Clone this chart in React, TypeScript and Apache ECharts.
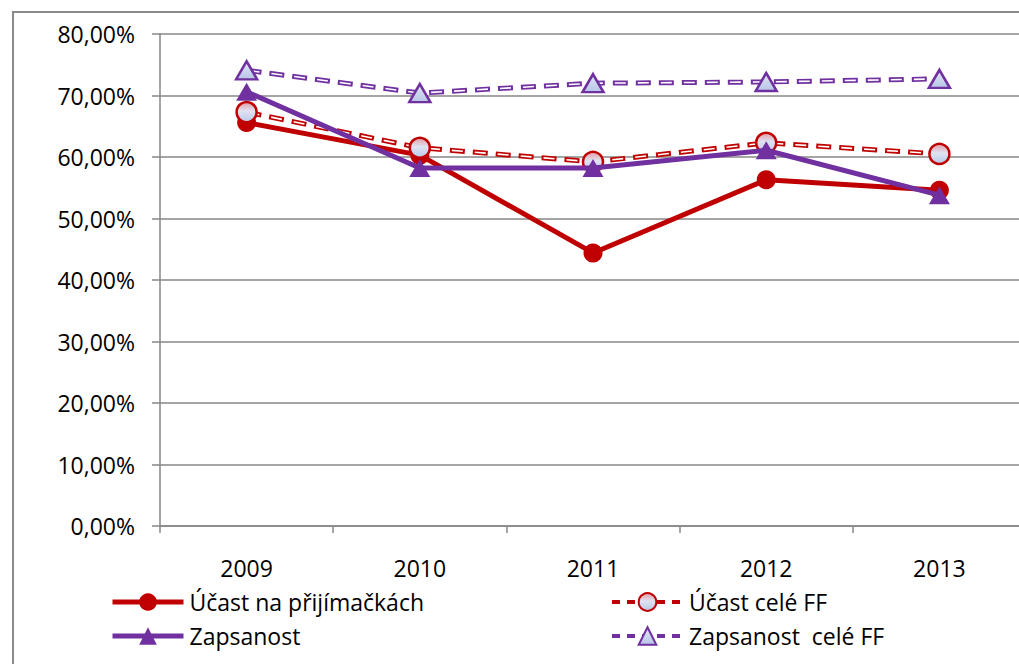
import React, { useEffect, useRef } from "react";
import * as echarts from "echarts";

const categories = ["2009", "2010", "2011", "2012", "2013"];
const ucast = [65.6, 60.3, 44.4, 56.3, 54.6];
const ucastFF = [67.3, 61.5, 59.2, 62.3, 60.5];
const zapsanost = [70.6, 58.2, 58.2, 61.1, 53.8];
const zapsanostFF = [74.1, 70.4, 72.0, 72.2, 72.7];
const yMin = 0;
const yMax = 80;
const yInterval = 10;

const RED = "#C00000";
const PURPLE = "#7030A0";
const GRID = "#878787";
const FONT = "'Open Sans', sans-serif";
const FS = 23;

const NAME_UCAST = "Účast na přijímačkách";
const NAME_UCAST_FF = "Účast celé FF";
const NAME_ZAPS = "Zapsanost";
const NAME_ZAPS_FF = "Zapsanost  celé FF";

const circleFill = {
  type: "linear", x: 0, y: 0, x2: 0, y2: 1,
  colorStops: [
    { offset: 0, color: "#e39aa3" },
    { offset: 0.45, color: "#dfe3f3" },
    { offset: 1, color: "#b9c8e8" },
  ],
};
const triFill = {
  type: "linear", x: 0, y: 0, x2: 0, y2: 1,
  colorStops: [
    { offset: 0, color: "#e3e7f5" },
    { offset: 1, color: "#b7c5e6" },
  ],
};

function dashedTriple(name: string, data: number[], color: string, symbol: string, symbolSize: any, fill: any) {
  return [
    {
      name: name + "__line", type: "line", data, showSymbol: false, silent: true, z: 2,
      lineStyle: { color, width: 5, type: [15, 8], cap: "butt" },
    },
    {
      name: name + "__white", type: "line", data, showSymbol: false, silent: true, z: 2,
      lineStyle: { color: "#ffffff", width: 1.6, type: [11, 12], dashOffset: 21, cap: "butt" },
    },
    {
      name, type: "line", data, symbol, symbolSize, showSymbol: true, z: 3,
      lineStyle: { width: 0, opacity: 0 },
      itemStyle: { color: fill, borderColor: color, borderWidth: 2.5 },
    },
  ];
}

export default function App() {
  const ref = useRef<HTMLDivElement>(null);
  useEffect(() => {
    const chart = echarts.init(ref.current!, null, { renderer: "svg" });
    const textStyle = { color: "#000", fontFamily: FONT, fontSize: FS, lineHeight: 26 };
    const legendBase = {
      itemWidth: 71, itemHeight: 22, padding: 0, itemGap: 0, selectedMode: false,
      textStyle: { ...textStyle, padding: [0, 0, 0, 1] },
    };
    chart.setOption({
      animation: false,
      backgroundColor: "#ffffff",
      grid: { left: 160, top: 34, bottom: 138, right: 0, containLabel: false },
      xAxis: {
        type: "category",
        data: categories,
        boundaryGap: true,
        axisLine: { lineStyle: { color: GRID, width: 1.5 } },
        axisTick: { show: true, length: 7, lineStyle: { color: GRID, width: 1.5 } },
        axisLabel: { color: "#000", fontFamily: FONT, fontSize: FS, margin: 30 },
      },
      yAxis: {
        type: "value",
        min: yMin, max: yMax, interval: yInterval,
        axisLine: { show: true, lineStyle: { color: GRID, width: 1.5 } },
        axisTick: { show: true, length: 8, lineStyle: { color: GRID, width: 1.5 } },
        splitLine: { lineStyle: { color: GRID, width: 1.5 } },
        axisLabel: {
          color: "#000", fontFamily: FONT, fontSize: FS, margin: 25,
          formatter: (v: number) => v.toFixed(2).replace(".", ",") + "%",
        },
      },
      legend: [
        {
          ...legendBase, left: 110, top: 589,
          data: [{ name: NAME_UCAST, lineStyle: { color: RED, width: 5 } }],
        },
        {
          ...legendBase, left: 610, top: 589,
          data: [{ name: NAME_UCAST_FF, lineStyle: { color: RED, width: 4, type: [8, 7], opacity: 1 } }],
        },
        {
          ...legendBase, left: 110, top: 623,
          data: [{ name: NAME_ZAPS, lineStyle: { color: PURPLE, width: 5 } }],
        },
        {
          ...legendBase, left: 610, top: 623,
          data: [{ name: NAME_ZAPS_FF, lineStyle: { color: PURPLE, width: 4, type: [8, 7], opacity: 1 } }],
        },
      ],
      graphic: [
        {
          type: "rect", silent: true, z: -1,
          shape: { x: 13, y: 12, width: 1100, height: 700 },
          style: { fill: "none", stroke: "#8a8a8a", lineWidth: 2 },
        },
      ],
      series: [
        {
          name: NAME_UCAST, type: "line", data: ucast, symbol: "circle", symbolSize: 19, z: 2,
          lineStyle: { color: RED, width: 5 },
          itemStyle: { color: RED, borderColor: RED, borderWidth: 0 },
        },
        ...dashedTriple(NAME_UCAST_FF, ucastFF, RED, "circle", 20, circleFill),
        {
          name: NAME_ZAPS, type: "line", data: zapsanost, symbol: "triangle", symbolSize: [21, 18], z: 4,
          lineStyle: { color: PURPLE, width: 5 },
          itemStyle: { color: PURPLE, borderColor: PURPLE, borderWidth: 0 },
        },
        ...dashedTriple(NAME_ZAPS_FF, zapsanostFF, PURPLE, "triangle", [21, 18], triFill),
      ],
    });
    return () => chart.dispose();
  }, []);
  return (
    <div
      ref={ref}
      style={{ position: "fixed", left: 0, top: 0, width: 1026, height: 664, background: "#fff" }}
    />
  );
}
